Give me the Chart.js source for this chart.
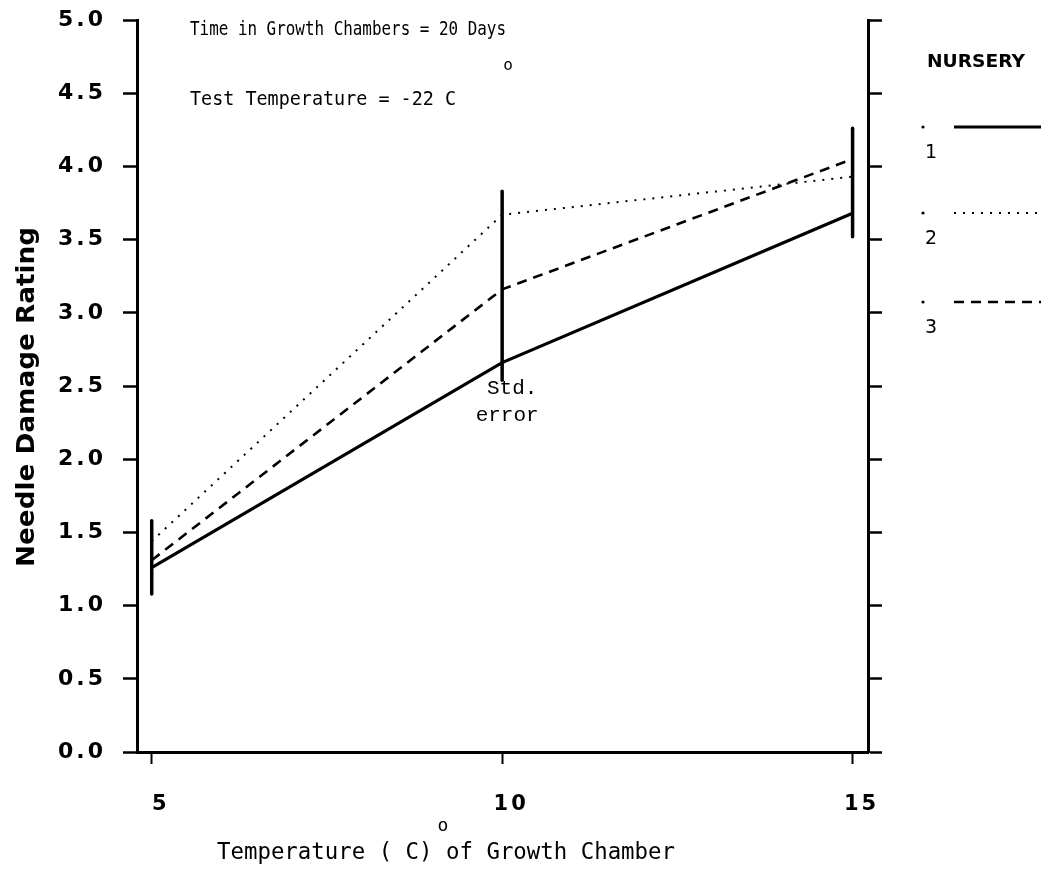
<!DOCTYPE html>
<html>
<head>
<meta charset="utf-8">
<script src="https://cdn.jsdelivr.net/npm/chart.js@4"></script>
<style>
  html, body { margin: 0; padding: 0; background: #fff; }
  #wrap { width: 1041px; height: 878px; position: relative; }
</style>
</head>
<body>
<div id="wrap"><canvas id="damage"></canvas></div>
<script>
// growth chamber temperatures (C)
const chamberTemps = [5, 10, 15];
// needle damage rating per nursery
const nursery1 = [1.26, 2.66, 3.68];
const nursery2 = [1.44, 3.67, 3.93];
const nursery3 = [1.31, 3.16, 4.05];
// std. error bar ends at each temperature
const errLow = [1.08, 2.54, 3.52];
const errHigh = [1.58, 3.83, 4.26];
// axis ticks
const xTicks = [5, 10, 15];
const yTicks = [0, 0.5, 1, 1.5, 2, 2.5, 3, 3.5, 4, 4.5, 5];

const nurseryNames = ["1", "2", "3"];
const nurseryStyles = [
  { width: 3.2, dash: [] },
  { width: 2, dash: [2, 7] },
  { width: 2.6, dash: [10, 7] }
];

const toPoints = ys => chamberTemps.map((x, i) => ({ x: x, y: ys[i] }));

const datasets = [nursery1, nursery2, nursery3].map((ys, i) => ({
  label: nurseryNames[i],
  data: toPoints(ys),
  borderColor: "#000",
  borderWidth: nurseryStyles[i].width,
  borderDash: nurseryStyles[i].dash,
  pointRadius: 0,
  tension: 0,
  fill: false
}));

// vertical std. error bars
chamberTemps.forEach((x, i) => {
  datasets.push({
    label: "err" + x,
    data: [{ x: x, y: errLow[i] }, { x: x, y: errHigh[i] }],
    borderColor: "#000",
    borderWidth: 3.5,
    borderCapStyle: "round",
    pointRadius: 0,
    fill: false
  });
});

const spacedTicks = {
  id: "spacedTicks",
  beforeDraw(chart) {
    chart.ctx.letterSpacing = "3px";
  }
};

// draws a string, optionally squeezed or stretched to a given width
function text(ctx, str, x, y, font, align, width, tall) {
  ctx.save();
  ctx.font = font;
  ctx.fillStyle = "#000";
  ctx.textBaseline = "middle";
  ctx.letterSpacing = "0px";
  const w = ctx.measureText(str).width;
  const sx = width ? width / w : 1;
  const sy = tall || 1;
  let left = x;
  if (align === "center") left = x - w * sx / 2;
  if (align === "right") left = x - w * sx;
  ctx.translate(left, y);
  ctx.scale(sx, sy);
  ctx.textAlign = "left";
  ctx.fillText(str, 0, 0);
  ctx.restore();
}

const annotations = {
  id: "annotations",
  afterDraw(chart) {
    const ctx = chart.ctx;
    const xs = chart.scales.x;
    const ys = chart.scales.y;
    const mono = "16px 'DejaVu Sans Mono'";

    text(ctx, "Time in Growth Chambers = 20 Days", 190, 30, mono, "left", 316, 1.2);
    text(ctx, "o", 508, 66, "16px 'DejaVu Sans Mono'", "center");
    text(ctx, "Test Temperature = -22 C", 190, 100, mono, "left", 266, 1.2);

    // std. error note under the middle bar
    const bx = xs.getPixelForValue(chamberTemps[1]);
    const by = ys.getPixelForValue(errLow[1]);
    text(ctx, "Std.", bx + 10, by + 8, "21px 'Liberation Mono'", "center");
    text(ctx, "error", bx + 5, by + 35, "21px 'Liberation Mono'", "center");

    // axis titles
    text(ctx, "o", 443, 826, "18px 'DejaVu Sans Mono'", "center");
    text(ctx, "Temperature ( C) of Growth Chamber", 446, 853, "22px 'DejaVu Sans Mono'", "center", 458, 1.05);
    ctx.save();
    ctx.translate(28, 397);
    ctx.rotate(-Math.PI / 2);
    text(ctx, "Needle Damage Rating", 0, 0, "bold 24px 'DejaVu Sans'", "center", 340);
    ctx.restore();

    // legend
    text(ctx, "NURSERY", 927, 62, "bold 18px 'DejaVu Sans'", "left", 98);
    const rows = [127, 213, 302];
    nurseryNames.forEach((name, i) => {
      const y = rows[i];
      ctx.save();
      ctx.fillStyle = "#000";
      ctx.beginPath();
      ctx.arc(923, y, 1.6, 0, Math.PI * 2);
      ctx.fill();
      ctx.strokeStyle = "#000";
      ctx.lineWidth = nurseryStyles[i].width;
      ctx.setLineDash(nurseryStyles[i].dash);
      ctx.beginPath();
      ctx.moveTo(954, y);
      ctx.lineTo(1041, y);
      ctx.stroke();
      ctx.restore();
      text(ctx, name, 925, y + 26, "19px 'DejaVu Sans'");
    });
  }
};

const noEdgePad = s => { s.paddingTop = 0; s.paddingBottom = 0; };

new Chart(document.getElementById("damage"), {
  type: "line",
  data: { datasets: datasets },
  plugins: [spacedTicks, annotations],
  options: {
    responsive: true,
    maintainAspectRatio: false,
    animation: false,
    layout: { padding: { top: 20, left: 0, right: 0, bottom: 0 } },
    plugins: {
      legend: { display: false },
      tooltip: { enabled: false }
    },
    scales: {
      x: {
        type: "linear",
        position: "bottom",
        min: 4.79,
        max: 15.22,
        afterBuildTicks: s => { s.ticks = xTicks.map(v => ({ value: v })); },
        afterFit: s => { s.height = 126; s.paddingLeft = 0; s.paddingRight = 0; },
        border: { display: true, color: "#000", width: 3 },
        grid: { display: true, drawOnChartArea: false, drawTicks: true, tickLength: 12, tickWidth: 2, tickColor: "#000" },
        ticks: {
          color: "#000",
          font: { family: "'DejaVu Sans'", size: 21, weight: "bold" },
          padding: 28,
          labelOffset: 9,
          maxRotation: 0
        }
      },
      y: {
        type: "linear",
        position: "left",
        min: 0,
        max: 5,
        afterBuildTicks: s => { s.ticks = yTicks.map(v => ({ value: v })); },
        afterFit: s => { s.width = 137; noEdgePad(s); },
        border: { display: true, color: "#000", width: 3 },
        grid: { display: true, drawOnChartArea: false, drawTicks: true, tickLength: 14, tickWidth: 2.5, tickColor: "#000" },
        ticks: {
          color: "#000",
          font: { family: "'DejaVu Sans'", size: 22, weight: "bold" },
          padding: 17,
          callback: v => v.toFixed(1)
        }
      },
      y2: {
        type: "linear",
        position: "right",
        min: 0,
        max: 5,
        afterBuildTicks: s => { s.ticks = yTicks.map(v => ({ value: v })); },
        afterFit: s => { s.width = 173; noEdgePad(s); },
        border: { display: true, color: "#000", width: 3 },
        grid: { display: true, drawOnChartArea: false, drawTicks: true, tickLength: 14, tickWidth: 2.5, tickColor: "#000" },
        ticks: { display: false }
      }
    }
  }
});
</script>
</body>
</html>
